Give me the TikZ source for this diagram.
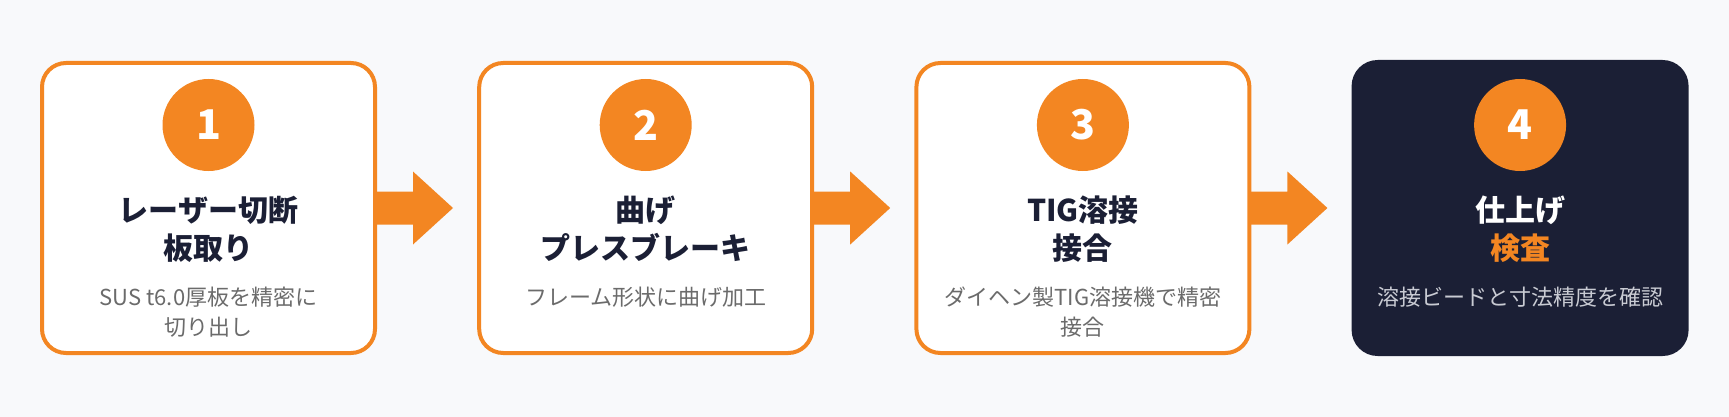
\documentclass[tikz,border=0pt]{standalone}
\usepackage{fontspec}
\setmainfont{Noto Sans CJK JP}
\usetikzlibrary{calc}
\definecolor{bgc}{HTML}{F8F9FB}
\definecolor{org}{HTML}{F38622}
\definecolor{navy}{HTML}{1B1F35}
\definecolor{descg}{HTML}{6B6B6B}
\definecolor{descl}{HTML}{C9CBD3}
\tikzset{
  stepbox/.style={draw=org, line width=4pt, fill=white, rounded corners=24pt,
    minimum width=333pt, minimum height=290pt, outer sep=0pt, inner sep=0pt},
  darkbox/.style={fill=navy, rounded corners=26pt,
    minimum width=337pt, minimum height=296pt, outer sep=0pt, inner sep=0pt},
  badge/.style={circle, fill=org, minimum size=92pt, inner sep=0pt, text=white,
    font=\fontsize{41}{41}\selectfont\bfseries},
  ttl/.style={anchor=base, text=navy, inner sep=0pt, font=\fontsize{30}{36}\selectfont\bfseries},
  dsc/.style={anchor=base, text=descg, inner sep=0pt, font=\fontsize{22}{26}\selectfont},
  flow/.style={fill=org}
}
\begin{document}
\begin{tikzpicture}[x=1pt,y=-1pt]
\fill[bgc] (0,0) rectangle (1729,417);
\useasboundingbox (0,0) rectangle (1729,417);

% boxes
\node[stepbox] (b1) at (208.5,208) {};
\node[stepbox] (b2) at (645.7,208) {};
\node[stepbox] (b3) at (1082.9,208) {};
\node[darkbox] (b4) at (1520.1,208) {};

% arrows
\foreach \b in {b1,b2,b3}{
  \fill[flow] ($(\b.east)+(0,-16.5)$) -- ++(38,0) -- ++(0,-20) -- ++(40,36.5)
    -- ++(-40,36.5) -- ++(0,-20) -- ++(-38,0) -- cycle;
}

% badges
\node[badge] (n1) at (208.5,125) {1};
\node[badge] (n2) at (645.7,125) {2};
\node[badge] (n3) at (1082.9,125) {3};
\node[badge] (n4) at (1520.1,125) {4};

% titles
\node[ttl] (t1a) at (208.5,221) {レーザー切断};
\node[ttl] (t1b) at (208.5,259) {板取り};
\node[ttl] (t2a) at (645.7,221) {曲げ};
\node[ttl] (t2b) at (645.7,259) {プレスブレーキ};
\node[ttl] (t3a) at (1082.9,221) {TIG溶接};
\node[ttl] (t3b) at (1082.9,259) {接合};
\node[ttl, text=white] (t4a) at (1520.1,221) {仕上げ};
\node[ttl, text=org] (t4b) at (1520.1,259) {検査};

% descriptions
\node[dsc] (d1a) at (208.5,305) {SUS t6.0厚板を精密に};
\node[dsc] (d1b) at (208.5,335) {切り出し};
\node[dsc] (d2a) at (645.7,305) {フレーム形状に曲げ加工};
\node[dsc] (d3a) at (1082.9,305) {ダイヘン製TIG溶接機で精密};
\node[dsc] (d3b) at (1082.9,335) {接合};
\node[dsc, text=descl] (d4a) at (1520.1,305) {溶接ビードと寸法精度を確認};
\end{tikzpicture}
\end{document}
